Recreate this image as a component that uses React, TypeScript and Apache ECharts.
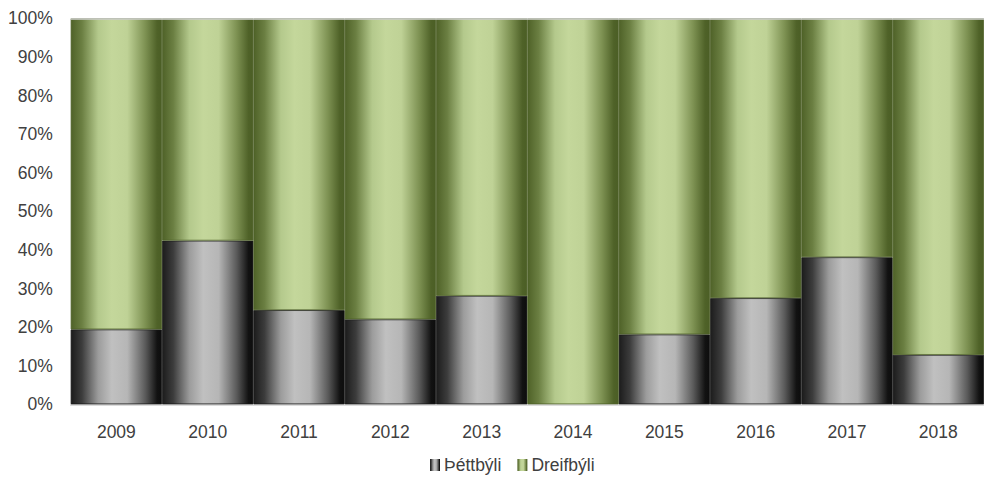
import React, { useEffect, useRef } from "react";
import * as echarts from "echarts";

const years = ["2009", "2010", "2011", "2012", "2013", "2014", "2015", "2016", "2017", "2018"];
const urban = [19.4, 42.4, 24.4, 22.0, 28.1, 0, 18.1, 27.5, 38.1, 12.8];
const rural = [80.6, 57.6, 75.6, 78.0, 71.9, 100, 81.9, 72.5, 61.9, 87.2];
const seriesNames = ["Þéttbýli", "Dreifbýli"];

const grayGrad = new echarts.graphic.LinearGradient(0, 0, 1, 0, [
  { offset: 0, color: "#1c1c1c" },
  { offset: 0.12, color: "#3c3c3c" },
  { offset: 0.3, color: "#9c9c9c" },
  { offset: 0.45, color: "#c0c0c0" },
  { offset: 0.62, color: "#b6b6b6" },
  { offset: 0.82, color: "#5a5a5a" },
  { offset: 0.95, color: "#121212" },
  { offset: 1, color: "#0d0d0d" },
]);

const greenGrad = new echarts.graphic.LinearGradient(0, 0, 1, 0, [
  { offset: 0, color: "#4f6228" },
  { offset: 0.12, color: "#6b7f42" },
  { offset: 0.3, color: "#b4c98c" },
  { offset: 0.45, color: "#c4d79b" },
  { offset: 0.62, color: "#bfd296" },
  { offset: 0.82, color: "#7d9152" },
  { offset: 0.95, color: "#4f6228" },
  { offset: 1, color: "#4b5e25" },
]);

const withBorder = (vals: number[]) =>
  vals.map((v) => (v === 0 ? { value: v, itemStyle: { borderWidth: 0 } } : v));

export default function App() {
  const ref = useRef<HTMLDivElement>(null);
  useEffect(() => {
    if (!ref.current) return;
    const chart = echarts.init(ref.current, null, { renderer: "svg" });
    const font = "'Liberation Sans', Arial, sans-serif";
    chart.setOption({
      animation: false,
      textStyle: { fontFamily: font },
      grid: { left: 70.7, right: -5, top: 18.3, bottom: 87.7, containLabel: false },
      legend: {
        data: seriesNames,
        bottom: 13,
        left: 425,
        icon: "rect",
        itemWidth: 10,
        itemHeight: 12,
        itemGap: 16,
        itemStyle: { borderWidth: 0 },
        textStyle: { fontSize: 17.5, color: "#404040", fontFamily: font, padding: [0, 0, 0, -1] },
      },
      xAxis: {
        type: "category",
        data: years,
        axisTick: { show: false },
        axisLine: { lineStyle: { color: "#d0d0d0", width: 1.5 } },
        axisLabel: { fontSize: 17.5, color: "#404040", margin: 19, fontFamily: font },
      },
      yAxis: {
        type: "value",
        min: 0,
        max: 100,
        interval: 10,
        splitLine: { show: false },
        axisLine: { show: false },
        axisTick: { show: false },
        axisLabel: { fontSize: 17.5, color: "#404040", margin: 18, formatter: "{value}%", fontFamily: font },
      },
      series: [
        {
          name: seriesNames[0],
          type: "bar",
          stack: "total",
          data: withBorder(urban),
          barCategoryGap: "0%",
          itemStyle: { color: grayGrad, borderColor: "#1a1a1a", borderWidth: 0.8 },
        },
        {
          name: seriesNames[1],
          type: "bar",
          stack: "total",
          data: withBorder(rural),
          barCategoryGap: "0%",
          itemStyle: { color: greenGrad, borderColor: "#4f6228", borderWidth: 0.8 },
          markLine: {
            silent: true,
            symbol: "none",
            label: { show: false },
            lineStyle: { color: "#d0d0d0", type: "solid", width: 1.5 },
            data: [{ yAxis: 100 }],
          },
        },
      ],
    });
    return () => chart.dispose();
  }, []);
  return (
    <div
      ref={ref}
      style={{ position: "fixed", left: 0, top: 0, width: 984, height: 492, background: "#fff" }}
    />
  );
}
